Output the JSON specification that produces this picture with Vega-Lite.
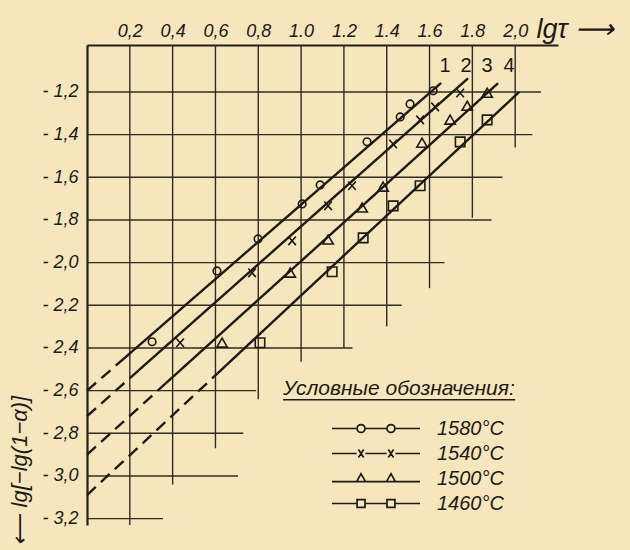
{
  "$schema": "https://vega.github.io/schema/vega-lite/v6.json",
  "width": 471,
  "height": 480,
  "autosize": {"type": "none"},
  "padding": {"left": 87, "top": 45, "right": 72, "bottom": 25},
  "background": "#f5e6bd",
  "config": {
    "view": {"stroke": null},
    "font": "Liberation Sans",
    "axis": {
      "grid": false,
      "ticks": false,
      "domainColor": "#241e17",
      "domainWidth": 2.2,
      "labelColor": "#1f1a14",
      "labelFont": "Liberation Sans",
      "labelFontStyle": "italic",
      "labelFontSize": 18,
      "titleColor": "#1f1a14",
      "titleFont": "Liberation Sans",
      "titleFontStyle": "italic",
      "titleFontWeight": "normal"
    }
  },
  "datasets": {
    "grid_h": [
      {"level": -1.2, "start": 0, "end": 2.12},
      {"level": -1.4, "start": 0, "end": 2.08},
      {"level": -1.6, "start": 0, "end": 1.94},
      {"level": -1.8, "start": 0, "end": 1.89},
      {"level": -2.0, "start": 0, "end": 1.67},
      {"level": -2.2, "start": 0, "end": 1.47},
      {"level": -2.4, "start": 0, "end": 1.24},
      {"level": -2.6, "start": 0, "end": 0.79},
      {"level": -2.8, "start": 0, "end": 0.73},
      {"level": -3.0, "start": 0, "end": 0.705},
      {"level": -3.2, "start": 0, "end": 0.355}
    ],
    "grid_v": [
      {"level": 0.2, "start": -0.98, "end": -3.23},
      {"level": 0.4, "start": -0.98, "end": -3.04},
      {"level": 0.6, "start": -0.98, "end": -2.87},
      {"level": 0.8, "start": -0.98, "end": -2.64},
      {"level": 1.0, "start": -0.98, "end": -2.465},
      {"level": 1.2, "start": -0.98, "end": -2.4},
      {"level": 1.4, "start": -0.98, "end": -2.3},
      {"level": 1.6, "start": -0.98, "end": -2.12},
      {"level": 1.8, "start": -0.98, "end": -1.79},
      {"level": 2.0, "start": -0.98, "end": -1.46}
    ],
    "lines": [
      {"series": "1580°C", "part": "dash", "x": 0, "y": -2.6},
      {"series": "1580°C", "part": "dash", "x": 0.17, "y": -2.452},
      {"series": "1580°C", "part": "solid", "x": 0.17, "y": -2.452},
      {"series": "1580°C", "part": "solid", "x": 1.654, "y": -1.158},
      {"series": "1540°C", "part": "dash", "x": 0, "y": -2.72},
      {"series": "1540°C", "part": "dash", "x": 0.24, "y": -2.506},
      {"series": "1540°C", "part": "solid", "x": 0.24, "y": -2.506},
      {"series": "1540°C", "part": "solid", "x": 1.78, "y": -1.136},
      {"series": "1500°C", "part": "dash", "x": 0, "y": -2.9},
      {"series": "1500°C", "part": "dash", "x": 0.37, "y": -2.564},
      {"series": "1500°C", "part": "solid", "x": 0.37, "y": -2.564},
      {"series": "1500°C", "part": "solid", "x": 1.92, "y": -1.159},
      {"series": "1460°C", "part": "dash", "x": 0, "y": -3.09},
      {"series": "1460°C", "part": "dash", "x": 0.61, "y": -2.519},
      {"series": "1460°C", "part": "solid", "x": 0.61, "y": -2.519},
      {"series": "1460°C", "part": "solid", "x": 2.019, "y": -1.2}
    ],
    "points": [
      {"series": "1580°C", "x": 0.304, "y": -2.371},
      {"series": "1580°C", "x": 0.607, "y": -2.039},
      {"series": "1580°C", "x": 0.799, "y": -1.889},
      {"series": "1580°C", "x": 1.005, "y": -1.725},
      {"series": "1580°C", "x": 1.089, "y": -1.636},
      {"series": "1580°C", "x": 1.308, "y": -1.434},
      {"series": "1580°C", "x": 1.463, "y": -1.317},
      {"series": "1580°C", "x": 1.509, "y": -1.256},
      {"series": "1580°C", "x": 1.617, "y": -1.195},
      {"series": "1540°C", "x": 0.435, "y": -2.376},
      {"series": "1540°C", "x": 0.771, "y": -2.048},
      {"series": "1540°C", "x": 0.958, "y": -1.898},
      {"series": "1540°C", "x": 1.126, "y": -1.734},
      {"series": "1540°C", "x": 1.238, "y": -1.64},
      {"series": "1540°C", "x": 1.43, "y": -1.444},
      {"series": "1540°C", "x": 1.556, "y": -1.331},
      {"series": "1540°C", "x": 1.626, "y": -1.27},
      {"series": "1540°C", "x": 1.743, "y": -1.205},
      {"series": "1500°C", "x": 0.631, "y": -2.376},
      {"series": "1500°C", "x": 0.949, "y": -2.048},
      {"series": "1500°C", "x": 1.126, "y": -1.893},
      {"series": "1500°C", "x": 1.285, "y": -1.743},
      {"series": "1500°C", "x": 1.383, "y": -1.645},
      {"series": "1500°C", "x": 1.565, "y": -1.439},
      {"series": "1500°C", "x": 1.696, "y": -1.331},
      {"series": "1500°C", "x": 1.776, "y": -1.266},
      {"series": "1500°C", "x": 1.869, "y": -1.205},
      {"series": "1460°C", "x": 0.808, "y": -2.376},
      {"series": "1460°C", "x": 1.145, "y": -2.043},
      {"series": "1460°C", "x": 1.29, "y": -1.884},
      {"series": "1460°C", "x": 1.43, "y": -1.734},
      {"series": "1460°C", "x": 1.556, "y": -1.64},
      {"series": "1460°C", "x": 1.743, "y": -1.434},
      {"series": "1460°C", "x": 1.869, "y": -1.331}
    ],
    "curve_labels": [
      {"label": "1", "x": 1.673, "y": -1.078},
      {"label": "2", "x": 1.771, "y": -1.078},
      {"label": "3", "x": 1.869, "y": -1.078},
      {"label": "4", "x": 1.972, "y": -1.078}
    ]
  },
  "layer": [
    {
      "data": {"name": "grid_h"},
      "mark": {"type": "rule", "color": "#332b22", "strokeWidth": 1.4},
      "encoding": {
        "x": {
          "field": "start",
          "type": "quantitative",
          "scale": {"domain": [0, 2.2], "nice": false, "zero": false},
          "axis": {
            "orient": "top",
            "values": [0.2, 0.4, 0.6, 0.8, 1.0, 1.2, 1.4, 1.6, 1.8, 2.0],
            "labelExpr": "(datum.value < 0.9 || datum.value > 1.9) ? replace(format(datum.value, '.1f'), '.', ',') : format(datum.value, '.1f')",
            "labelPadding": 5,
            "title": "lgτ ⟶",
            "titleX": 449,
            "titleY": -8,
            "titleAlign": "left",
            "titleBaseline": "alphabetic",
            "titleAngle": 0,
            "titleFontSize": 27
          }
        },
        "x2": {"field": "end"},
        "y": {
          "field": "level",
          "type": "quantitative",
          "scale": {"domain": [-3.23, -0.98], "nice": false, "zero": false},
          "axis": {
            "orient": "left",
            "values": [-1.2, -1.4, -1.6, -1.8, -2.0, -2.2, -2.4, -2.6, -2.8, -3.0, -3.2],
            "labelExpr": "'- ' + replace(format(-datum.value, '.1f'), '.', ',')",
            "labelPadding": 9,
            "title": "⟵ lg[−lg(1−α)]",
            "titleAngle": -90,
            "titleX": -68,
            "titleY": 500,
            "titleAlign": "left",
            "titleBaseline": "middle",
            "titleFontSize": 22
          }
        }
      }
    },
    {
      "data": {"name": "grid_v"},
      "mark": {"type": "rule", "color": "#332b22", "strokeWidth": 1.4},
      "encoding": {
        "x": {"field": "level", "type": "quantitative"},
        "y": {"field": "start", "type": "quantitative"},
        "y2": {"field": "end"}
      }
    },
    {
      "data": {"name": "lines"},
      "mark": {"type": "line", "color": "#1f1a14", "strokeWidth": 2.4},
      "encoding": {
        "x": {"field": "x", "type": "quantitative"},
        "y": {"field": "y", "type": "quantitative"},
        "detail": {"field": "series"},
        "strokeDash": {
          "field": "part",
          "type": "nominal",
          "scale": {"domain": ["solid", "dash"], "range": [[1, 0], [12, 7]]},
          "legend": null
        }
      }
    },
    {
      "data": {"name": "points"},
      "mark": {"type": "point", "filled": false, "color": "#1f1a14", "strokeWidth": 1.6, "size": 90, "opacity": 1},
      "encoding": {
        "x": {"field": "x", "type": "quantitative"},
        "y": {"field": "y", "type": "quantitative"},
        "shape": {
          "field": "series",
          "type": "nominal",
          "scale": {
            "domain": ["1580°C", "1540°C", "1500°C", "1460°C"],
            "range": [
              "M0.8,0A0.8,0.8,0,1,1,-0.8,0A0.8,0.8,0,1,1,0.8,0Z",
              "M-0.8,-0.9L0.8,0.9M-0.8,0.9L0.8,-0.9",
              "M0,-1L1.1,0.9L-1.1,0.9Z",
              "M-1,-1H1V1H-1Z"
            ]
          },
          "legend": null
        }
      }
    },
    {
      "data": {"name": "points"},
      "mark": {"type": "point", "filled": false, "color": "#1f1a14", "strokeWidth": 1.7, "opacity": 0},
      "encoding": {
        "x": {"field": "x", "type": "quantitative"},
        "y": {"field": "y", "type": "quantitative"},
        "shape": {
          "field": "series",
          "type": "nominal",
          "scale": {
            "domain": ["1580°C", "1540°C", "1500°C", "1460°C"],
            "range": [
              "M-1,0H-0.43A0.09,0.09,0,1,1,-0.25,0A0.09,0.09,0,1,1,-0.43,0M-0.25,0H0.25A0.09,0.09,0,1,1,0.43,0A0.09,0.09,0,1,1,0.25,0M0.43,0H1",
              "M-1,0H-0.44M-0.24,0H0.24M0.44,0H1M-0.4,-0.09L-0.28,0.09M-0.4,0.09L-0.28,-0.09M0.28,-0.09L0.4,0.09M0.28,0.09L0.4,-0.09",
              "M-1,0.07H1M-0.44,0.07L-0.34,-0.11L-0.24,0.07ZM0.24,0.07L0.34,-0.11L0.44,0.07Z",
              "M-1,0H-0.43M-0.25,0H0.25M0.43,0H1M-0.43,-0.09H-0.25V0.09H-0.43ZM0.25,-0.09H0.43V0.09H0.25Z"
            ]
          },
          "legend": {
            "orient": "none",
            "legendX": 196,
            "legendY": 333,
            "padding": 0,
            "title": "Условные обозначения:",
            "titleFont": "Liberation Sans",
            "titleFontSize": 21,
            "titleFontStyle": "italic",
            "titleFontWeight": "normal",
            "titleColor": "#1f1a14",
            "titlePadding": 19,
            "titleLimit": 400,
            "symbolSize": 7744,
            "symbolStrokeColor": "#1f1a14",
            "symbolStrokeWidth": 1.7,
            "symbolOpacity": 1,
            "symbolFillColor": "transparent",
            "symbolOffset": 48,
            "labelOffset": 16,
            "clipHeight": 21,
            "rowPadding": 4,
            "labelFont": "Liberation Sans",
            "labelFontSize": 20,
            "labelFontStyle": "italic",
            "labelColor": "#1f1a14",
            "labelLimit": 200
          }
        }
      }
    },
    {
      "data": {"values": [{}]},
      "mark": {"type": "rule", "color": "#1f1a14", "strokeWidth": 1.6},
      "encoding": {
        "x": {"datum": 0.916, "type": "quantitative"},
        "x2": {"datum": 2.0},
        "y": {"datum": -2.643, "type": "quantitative"}
      }
    },
    {
      "data": {"name": "curve_labels"},
      "mark": {"type": "text", "font": "Liberation Sans", "fontSize": 20, "color": "#1f1a14", "baseline": "middle", "align": "center"},
      "encoding": {
        "x": {"field": "x", "type": "quantitative"},
        "y": {"field": "y", "type": "quantitative"},
        "text": {"field": "label"}
      }
    }
  ],
  "resolve": {"scale": {"shape": "independent"}, "legend": {"shape": "independent"}}
}
